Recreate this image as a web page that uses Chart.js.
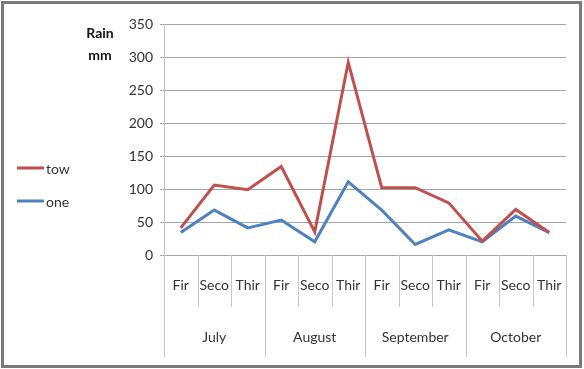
<!DOCTYPE html>
<html>
<head>
<meta charset="utf-8">
<script src="https://cdn.jsdelivr.net/npm/chart.js@4.4.1/dist/chart.umd.min.js"></script>
<style>
  body { margin: 0; background: #fff; }
  #wrap { width: 584px; height: 369px; }
</style>
</head>
<body>
<div id="wrap"><canvas id="grafico" width="584" height="369"></canvas></div>
<script>
const meses = ['July', 'August', 'September', 'October'];
const partes = ['Fir', 'Seco', 'Thir'];
const rotulos = meses.flatMap(() => partes);
const tow = [41, 106, 99, 134, 35, 292, 102, 102, 79, 21, 69, 34];
const one = [34, 68, 41, 53, 20, 111, 68, 16, 38, 20, 59, 34];
const yTicks = [0, 50, 100, 150, 200, 250, 300, 350];

const fonte = 'Lato, "Open Sans", sans-serif';
const corTexto = '#333333';

// desenha eixo x em dois niveis, legenda, titulo do eixo e moldura
const extras = {
    id: 'extras',
    afterDraw(chart) {
        const ctx = chart.ctx;
        const x = chart.scales.x;
        const area = chart.chartArea;
        const passo = x.getPixelForValue(1) - x.getPixelForValue(0);
        ctx.save();

        // separadores
        ctx.strokeStyle = '#c8c8c8';
        ctx.lineWidth = 1;
        for (let i = 0; i <= rotulos.length; i++) {
            const px = Math.round(x.getPixelForValue(i) - passo / 2) + 0.5;
            const fim = (i % partes.length === 0) ? area.bottom + 102 : area.bottom + 52;
            ctx.beginPath();
            ctx.moveTo(px, area.bottom);
            ctx.lineTo(px, fim);
            ctx.stroke();
        }

        ctx.fillStyle = corTexto;
        ctx.font = '14px ' + fonte;
        ctx.textAlign = 'center';
        ctx.textBaseline = 'middle';
        rotulos.forEach((r, i) => {
            ctx.fillText(r, x.getPixelForValue(i), area.bottom + 30);
        });
        meses.forEach((m, j) => {
            const a = x.getPixelForValue(j * partes.length);
            const b = x.getPixelForValue(j * partes.length + partes.length - 1);
            ctx.fillText(m, (a + b) / 2, area.bottom + 82);
        });

        // titulo do eixo y
        ctx.font = 'bold 14px ' + fonte;
        ctx.fillStyle = '#111';
        ctx.fillText('Rain', 100, 33);
        ctx.fillText('mm', 100, 55);

        // legenda
        ctx.font = '14px ' + fonte;
        ctx.textAlign = 'left';
        ctx.fillStyle = corTexto;
        chart.data.datasets.forEach((ds, i) => {
            const y = 168 + i * 33;
            ctx.strokeStyle = ds.borderColor;
            ctx.lineWidth = 3;
            ctx.beginPath();
            ctx.moveTo(17, y);
            ctx.lineTo(44, y);
            ctx.stroke();
            ctx.fillText(ds.label, 46, y + 1);
        });

        // moldura
        ctx.strokeStyle = '#7a7a7a';
        ctx.lineWidth = 3;
        ctx.strokeRect(2.5, 2.5, 578, 364);
        ctx.restore();
    }
};

const ctx = document.getElementById('grafico').getContext('2d');
const chart = new Chart(ctx, {
    type: 'line',
    data: {
        labels: rotulos,
        datasets: [{
            label: 'tow',
            data: tow,
            borderColor: '#C0504D',
            borderWidth: 3,
            pointRadius: 0,
            tension: 0
        }, {
            label: 'one',
            data: one,
            borderColor: '#4F81BD',
            borderWidth: 3,
            pointRadius: 0,
            tension: 0
        }]
    },
    options: {
        responsive: false,
        animation: false,
        layout: {
            padding: { top: 24, right: 18, bottom: 114, left: 0 }
        },
        plugins: {
            legend: { display: false },
            tooltip: { enabled: false }
        },
        scales: {
            x: {
                display: false,
                offset: true
            },
            y: {
                min: 0,
                max: 350,
                afterFit: s => { s.width = 164; },
                afterBuildTicks: s => { s.ticks = yTicks.map(v => ({ value: v })); },
                ticks: {
                    color: corTexto,
                    font: { family: fonte, size: 14 },
                    padding: 7
                },
                grid: {
                    color: '#a6a6a6',
                    tickLength: 4
                },
                border: { color: '#bfbfbf' }
            }
        }
    },
    plugins: [extras]
});
</script>
</body>
</html>
